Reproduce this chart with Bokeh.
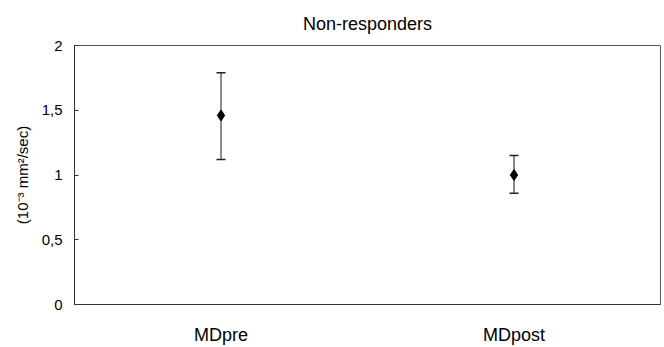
from bokeh.plotting import figure
from bokeh.models import FixedTicker, Range1d, Whisker, ColumnDataSource
from bokeh.embed import file_html
from bokeh.resources import INLINE

title_text = "Non-responders"
categories = ["MDpre", "MDpost"]
means = [1.46, 1.0]
upper = [1.79, 1.15]
lower = [1.12, 0.86]
y_ticks = [0, 0.5, 1, 1.5, 2]
y_tick_labels = ["0", "0,5", "1", "1,5", "2"]

xpos = [i + 0.5 for i in range(len(categories))]
src = ColumnDataSource(dict(x=xpos, y=means, upper=upper, lower=lower))

FONT = "Liberation Sans"

p = figure(width=664, height=347, output_backend="svg", toolbar_location=None,
           x_range=Range1d(0, len(categories)), y_range=Range1d(0, 2),
           min_border_left=74, min_border_right=4, min_border_top=45, min_border_bottom=42)
p.title.text = title_text
p.title.align = "center"
p.title.text_font = FONT
p.title.text_font_size = "18px"
p.title.text_font_style = "normal"
p.title.text_color = "black"
p.title.standoff = 23

p.grid.visible = False
p.outline_line_color = "#555555"
p.outline_line_width = 1
p.background_fill_color = "white"
p.border_fill_color = "white"

p.yaxis.ticker = FixedTicker(ticks=y_ticks)
p.yaxis.major_label_overrides = {t: l for t, l in zip(y_ticks, y_tick_labels)}
p.yaxis.major_tick_in = 4
p.yaxis.major_tick_out = 0
p.yaxis.minor_tick_line_color = None
p.yaxis.major_label_standoff = 12
p.yaxis.major_label_text_font = FONT
p.yaxis.major_label_text_font_size = "15px"
p.yaxis.major_label_text_color = "black"
p.yaxis.axis_label = "(10\u207b\u00b3 mm\u00b2/sec)"
p.yaxis.axis_label_text_font = FONT
p.yaxis.axis_label_text_font_size = "15px"
p.yaxis.axis_label_text_font_style = "normal"
p.yaxis.axis_label_text_color = "black"
p.yaxis.axis_label_standoff = 8
p.yaxis.axis_line_color = "#333333"
p.yaxis.major_tick_line_color = "#333333"

p.xaxis.ticker = FixedTicker(ticks=xpos)
p.xaxis.major_label_overrides = {x: c for x, c in zip(xpos, categories)}
p.xaxis.major_tick_line_color = None
p.xaxis.minor_tick_line_color = None
p.xaxis.major_label_standoff = 14
p.xaxis.major_label_text_font = FONT
p.xaxis.major_label_text_font_size = "18px"
p.xaxis.major_label_text_color = "black"
p.xaxis.axis_line_color = "#333333"

w = Whisker(source=src, base="x", upper="upper", lower="lower",
            line_color="#666666", line_width=1.5)
w.upper_head.size = 9
w.lower_head.size = 9
w.upper_head.line_color = "#222222"
w.lower_head.line_color = "#222222"
w.upper_head.line_width = 1.5
w.lower_head.line_width = 1.5
p.add_layout(w)

p.scatter("x", "y", source=src, marker="diamond", size=11, color="black")

open("out.html", "w").write(file_html(p, INLINE))
